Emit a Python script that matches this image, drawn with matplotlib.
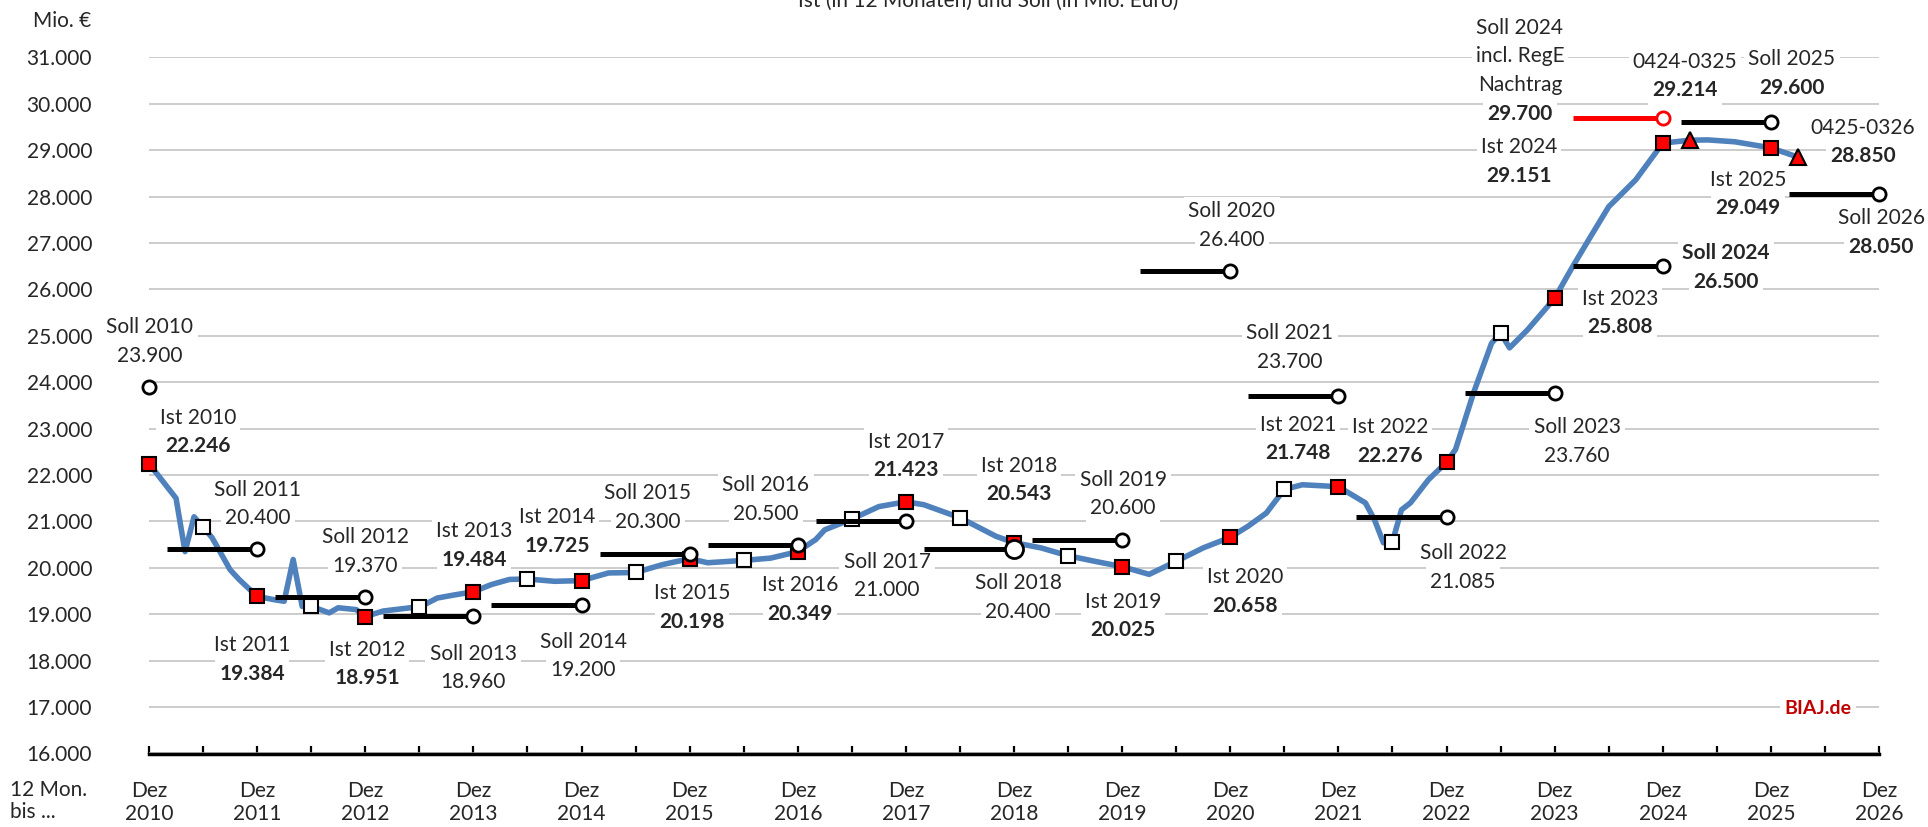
import matplotlib

matplotlib.use("Agg")
import matplotlib.pyplot as plt
from matplotlib.ticker import FixedLocator, FuncFormatter

# --- data (Mio. Euro) -------------------------------------------------------
# 12-month rolling sum "Ist"
ist_months = [
    "2010-12", "2011-03", "2011-04", "2011-05", "2011-06", "2011-07", "2011-09",
    "2011-10", "2011-12", "2012-02", "2012-03", "2012-04", "2012-05", "2012-06",
    "2012-08", "2012-09", "2012-11", "2012-12", "2013-02", "2013-05", "2013-06",
    "2013-08", "2013-10", "2013-12", "2014-02", "2014-04", "2014-06", "2014-09",
    "2014-12", "2015-03", "2015-06", "2015-09", "2015-12", "2016-02", "2016-06",
    "2016-09", "2016-12", "2017-02", "2017-03", "2017-06", "2017-09", "2017-12",
    "2018-02", "2018-06", "2018-10", "2018-12", "2019-03", "2019-06", "2019-09",
    "2019-12", "2020-03", "2020-06", "2020-09", "2020-12", "2021-02", "2021-04",
    "2021-06", "2021-08", "2021-10", "2021-12", "2022-03", "2022-04", "2022-05",
    "2022-06", "2022-07", "2022-08", "2022-10", "2022-12", "2023-01", "2023-03",
    "2023-05", "2023-06", "2023-07", "2023-09", "2023-12", "2024-02", "2024-04",
    "2024-06", "2024-09", "2024-12", "2025-03", "2025-05", "2025-08", "2025-12",
    "2026-03",
]
ist_values = [
    22246, 21500, 20350, 21100, 20880, 20650, 19960,
    19750, 19384, 19310, 19280, 20180, 19170, 19170,
    19030, 19140, 19100, 18951, 19070, 19140, 19150,
    19350, 19420, 19484, 19640, 19750, 19760, 19710,
    19725, 19890, 19900, 20070, 20198, 20110, 20160,
    20210, 20349, 20610, 20820, 21050, 21320, 21423,
    21360, 21080, 20680, 20543, 20430, 20260, 20140,
    20025, 19860, 20140, 20430, 20658, 20900, 21180,
    21690, 21790, 21770, 21748, 21400, 21040, 20540,
    20560, 21250, 21400, 21900, 22276, 22550, 23770,
    24840, 25060, 24740, 25130, 25808, 26490, 27140,
    27780, 28360, 29151, 29214, 29220, 29180, 29049,
    28850,
]

# December values (red squares, labelled "Ist ...")
dec_years = list(range(2010, 2026))
dec_values = [22246, 19384, 18951, 19484, 19725, 20198, 20349, 21423,
              20543, 20025, 20658, 21748, 22276, 25808, 29151, 29049]

# June values (white squares)
jun_years = list(range(2011, 2024))
jun_values = [20880, 19170, 19150, 19760, 19900, 20160, 21050,
              21080, 20260, 20140, 21690, 20560, 25060]

# April-March sums (red triangles)
tri_months = ["2025-03", "2026-03"]
tri_values = [29214, 28850]
tri_labels = ["0424-0325", "0425-0326"]

# budget targets "Soll"
soll_years = list(range(2011, 2027))
soll_values = [20400, 19370, 18960, 19200, 20300, 20500, 21000, 20400,
               20600, 26400, 23700, 21085, 23760, 26500, 29600, 28050]
soll_2010 = 23900
soll_2024_nachtrag = 29700


def month_idx(s):
    y, m = s.split("-")
    return (int(y) - 2010) * 12 + int(m) - 12


def fmt(v):
    return f"{v:,.0f}".replace(",", ".")


# --- label layout (pixel centre of first line) ---------------------------
ist_pos = {2010: (198, 418), 2011: (252, 645), 2012: (367, 650), 2013: (474, 531),
           2014: (557, 517), 2015: (692, 593), 2016: (800, 585), 2017: (906, 442),
           2018: (1019, 466), 2019: (1123, 602), 2020: (1245, 577), 2021: (1298, 425),
           2022: (1390, 427), 2023: (1620, 299), 2024: (1519, 147), 2025: (1748, 180)}
soll_pos = {2010: (150, 327), 2011: (258, 490), 2012: (365, 537), 2013: (473, 654),
            2014: (583, 642), 2015: (648, 493), 2016: (766, 485), 2017: (887, 562),
            2018: (1018, 583), 2019: (1123, 480), 2020: (1232, 211), 2021: (1290, 333),
            2022: (1463, 553), 2023: (1577, 427), 2024: (1726, 253), 2025: (1792, 59),
            2026: (1881, 218)}
tri_pos = [(1685, 62), (1863, 128)]
nachtrag_pos = (1520, 28)

W, H = 1928, 827
FONT = "Lato"
TXT = "#262626"
BLUE = "#4F81BD"
RED = "#FF0000"
STEP = 28.5

plt.rcParams["font.family"] = [FONT, "DejaVu Sans"]

fig = plt.figure(figsize=(W / 100, H / 100), dpi=100)
ax = fig.add_axes([149 / W, 1 - 753.5 / H, (1879 - 149) / W, (753.5 - 57.3) / H])


def label(pos, lines, bold=()):
    x, y = pos
    for i, line in enumerate(lines):
        ax.text(x / W, 1 - (y + i * STEP) / H, line, transform=fig.transFigure,
                ha="center", va="center", fontsize=15, color=TXT,
                fontweight="bold" if i in bold else "normal", zorder=2,
                bbox=dict(facecolor="white", edgecolor="none", pad=3))


# Ist line and markers
ist_x = [month_idx(m) for m in ist_months]
ax.plot(ist_x, ist_values, color=BLUE, lw=4, zorder=3, solid_joinstyle="round")
ax.plot([(y - 2010) * 12 for y in dec_years], dec_values, ls="none", marker="s",
        ms=10, mfc=RED, mec="black", mew=1.5, zorder=4, clip_on=False)
ax.plot([(y - 2010) * 12 - 6 for y in jun_years], jun_values, ls="none", marker="s",
        ms=10, mfc="white", mec="black", mew=1.5, zorder=4)
ax.plot([month_idx(m) for m in tri_months], tri_values, ls="none", marker="^",
        ms=11, mfc=RED, mec="black", mew=1.5, zorder=4)

# Soll segments (Feb..Dez) with open circle at Dez
for year, val in zip(soll_years, soll_values):
    x1 = (year - 2010) * 12
    ax.plot([x1 - 10, x1], [val, val], color="black", lw=3.6, zorder=5,
            solid_capstyle="butt")
    ax.plot(x1, val, ls="none", marker="o", ms=13 if year == 2018 else 9.5,
            mfc="white", mec="black", mew=2, zorder=6, clip_on=False)
ax.plot(0, soll_2010, ls="none", marker="o", ms=9.5, mfc="white", mec="black",
        mew=2, zorder=6, clip_on=False)
x24 = (2024 - 2010) * 12
ax.plot([x24 - 10, x24], [soll_2024_nachtrag] * 2, color=RED, lw=3.6, zorder=5,
        solid_capstyle="butt")
ax.plot(x24, soll_2024_nachtrag, ls="none", marker="o", ms=9.5, mfc="white",
        mec=RED, mew=2, zorder=6)

# labels
for year, val in zip(dec_years, dec_values):
    label(ist_pos[year], [f"Ist {year}", fmt(val)], bold=(1,))
label(soll_pos[2010], ["Soll 2010", fmt(soll_2010)])
for year, val in zip(soll_years, soll_values):
    if year == 2024:
        b = (0, 1)
    elif year >= 2025:
        b = (1,)
    else:
        b = ()
    label(soll_pos[year], [f"Soll {year}", fmt(val)], bold=b)
for pos, name, val in zip(tri_pos, tri_labels, tri_values):
    label(pos, [name, fmt(val)], bold=(1,))
label(nachtrag_pos, ["Soll 2024", "incl. RegE", "Nachtrag", fmt(soll_2024_nachtrag)],
      bold=(3,))

# axes styling
ax.set_xlim(0, 192)
ax.set_ylim(16000, 31000)
ax.set_yticks(range(16000, 31001, 1000))
ax.yaxis.set_major_formatter(FuncFormatter(lambda v, _: fmt(v)))
ax.tick_params(axis="y", length=0, pad=41, labelsize=15, labelcolor=TXT)
ax.grid(axis="y", color="#BFBFBF", lw=1.1)
ax.set_axisbelow(True)
for side in ("left", "right", "top"):
    ax.spines[side].set_visible(False)
ax.spines["bottom"].set_linewidth(2.5)
ax.spines["bottom"].set_color("black")
ax.xaxis.set_major_locator(FixedLocator(range(0, 193, 12)))
ax.xaxis.set_minor_locator(FixedLocator(range(6, 193, 12)))
ax.set_xticklabels([f"Dez\n{2010 + i}" for i in range(17)], linespacing=1.15)
ax.tick_params(axis="x", which="both", direction="in", length=6, width=1.6,
               color="black", pad=20, labelsize=15, labelcolor=TXT)
ax.set_facecolor("none")

fig.text(91.5 / W, 1 - 21 / H, "Mio. €", ha="right", va="center", fontsize=15, color=TXT)
fig.text(10 / W, 1 - 801 / H, "12 Mon.\nbis ...", ha="left", va="center",
         fontsize=15, color=TXT, linespacing=1.15)
fig.text(988 / W, 1 - 7 / H, "Ist (in 12 Monaten) und Soll (in Mio. Euro)",
         ha="center", va="baseline", fontsize=15, color=TXT)
ax.text(1818 / W, 1 - 708 / H, "BIAJ.de", transform=fig.transFigure, ha="center",
        va="center", fontsize=14, fontweight="bold", color="#C00000", zorder=2,
        bbox=dict(facecolor="white", edgecolor="none", pad=3))

fig.savefig("out.png", dpi=100)
